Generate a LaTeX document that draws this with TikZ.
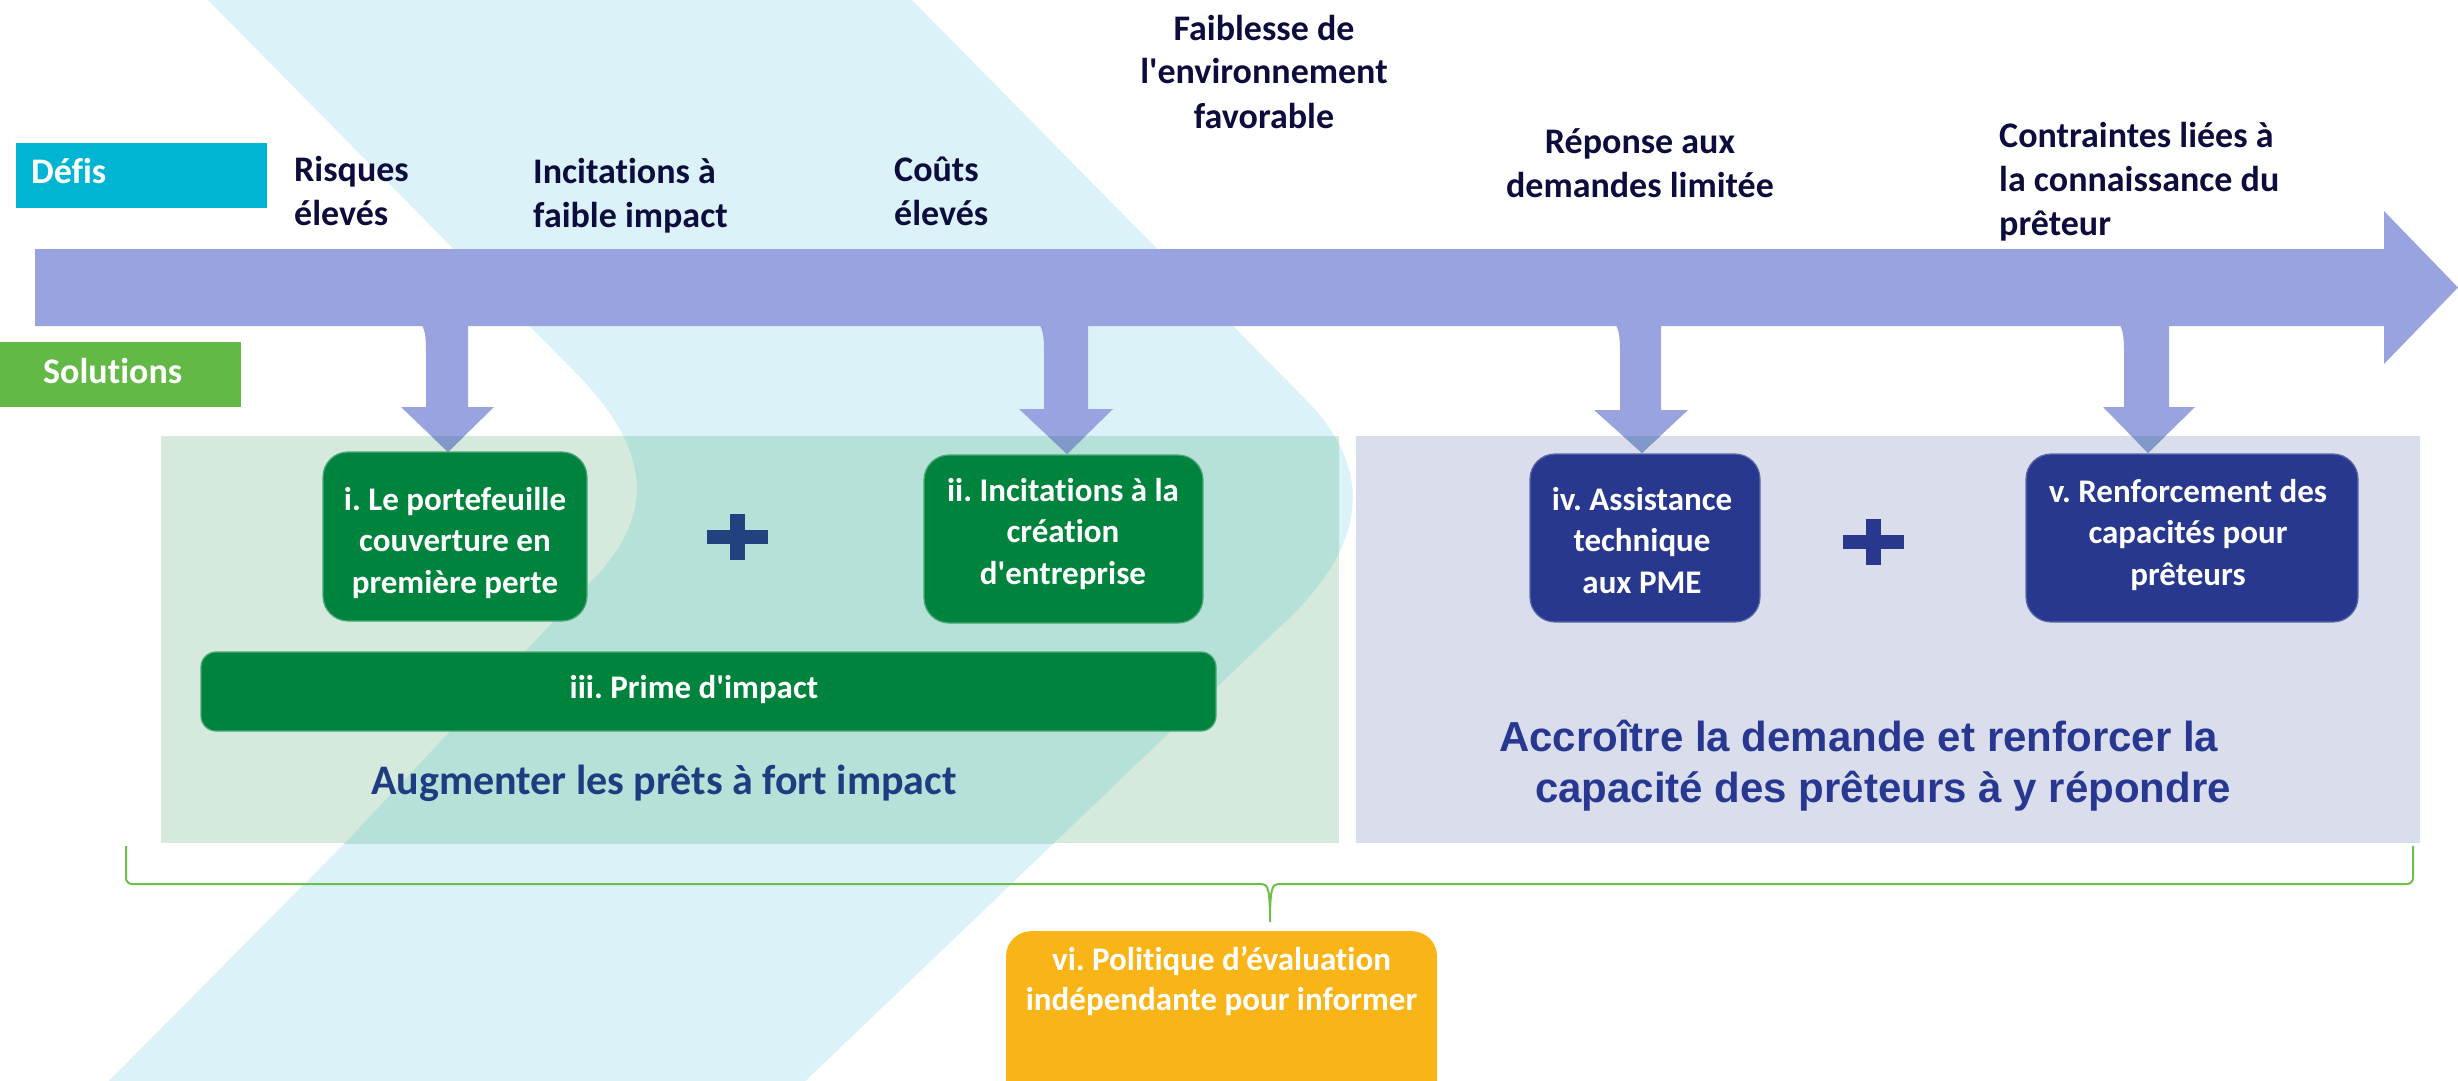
\documentclass[tikz,border=0pt]{standalone}
\usepackage{fontspec}
\setmainfont{Carlito}[Ligatures={TeX,NoCommon}]
\newfontfamily\arialf{Liberation Sans}
\frenchspacing
\definecolor{chev}{HTML}{DAF2F8}
\definecolor{chevg}{HTML}{B5E1D8}
\definecolor{gpanel}{HTML}{D5E9DC}
\definecolor{bpanel}{HTML}{D9DDEC}
\definecolor{arrowc}{HTML}{98A3E0}
\definecolor{arrowd}{HTML}{8199C8}
\definecolor{defisc}{HTML}{00B5D3}
\definecolor{solc}{HTML}{63B946}
\definecolor{dkgreen}{HTML}{00843D}
\definecolor{navy}{HTML}{27388E}
\definecolor{plusg}{HTML}{21417F}
\definecolor{titleg}{HTML}{1F3C80}
\definecolor{titleb}{HTML}{283891}
\definecolor{orangec}{HTML}{F9B418}
\definecolor{bracec}{HTML}{6DBE4B}
\definecolor{chal}{HTML}{0D0D3D}
\newcommand\chfont{\bfseries\fontsize{36}{44}\selectfont}
\newcommand\bxfont{\bfseries\fontsize{33}{41.5}\selectfont}
\tikzset{
  chtext/.style={text=chal, font=\chfont, inner sep=0},
  gbox/.style={fill=dkgreen, draw=dkgreen!70!white, line width=1.2, rounded corners=25, inner sep=0},
  nbox/.style={fill=navy, draw=navy!75!white, line width=1.2, rounded corners=25, inner sep=0},
  bxtext/.style={anchor=base, inner sep=0, align=center, text=white, font=\bxfont},
  tagbox/.style={inner sep=0, anchor=north west},
}
\def\chevpath{(203,-5) -- (575,372) .. controls (650,448) and (655,510) .. (600,572) -- (345,843) -- (100,1090) -- (796,1090) -- (1287,620) .. controls (1368,543) and (1374,469) .. (1306,400) -- (907,-5) -- cycle}
\begin{document}
\begin{tikzpicture}[x=1pt,y=-1pt]
\useasboundingbox (0,0) rectangle (2458,1081);
\clip (0,0) rectangle (2458,1081);
% background chevron
\fill[chev] \chevpath;
% panels
\fill[gpanel] (161,436) rectangle (1339,843);
\begin{scope}
  \clip (161,436) rectangle (1339,843);
  \fill[chevg] \chevpath;
\end{scope}
\fill[bpanel] (1356,436) rectangle (2420,843);
% main arrow
\fill[arrowc] (35,249) -- (2384,249) -- (2384,211) -- (2458,287.5) -- (2384,364) -- (2384,326) -- (35,326) -- cycle;
% down arrows
\foreach \sl/\sr/\hl/\hr/\tx/\hy/\ty in {426/468/401/494/448/407/452, 1044/1088/1019/1113/1067/409/454, 1620/1661/1594/1688/1642/410/453, 2124/2169/2103/2195/2148/407/453}{
  \fill[arrowc] ({\sl-8},320) .. controls (\sl,328) and (\sl,338) .. (\sl,356) -- (\sl,\hy) -- (\hl,\hy) -- (\tx,\ty) -- (\hr,\hy) -- (\sr,\hy) -- (\sr,320) -- cycle;
  \begin{scope}
    \clip (161,436) rectangle (1339,843) (1356,436) rectangle (2420,843);
    \fill[arrowd] (\hl,\hy) -- (\tx,\ty) -- (\hr,\hy) -- cycle;
  \end{scope}
}
% tags
\node[tagbox, fill=defisc, minimum width=251, minimum height=65] (defisbox) at (16,143) {};
\node[anchor=base west, inner sep=0, text=white, font=\chfont] (defis) at (31,183) {Défis};
\node[tagbox, fill=solc, minimum width=241, minimum height=65] (solbox) at (0,342) {};
\node[anchor=base west, inner sep=0, text=white, font=\chfont] (sol) at (43,383) {Solutions};
% challenges (anchor = baseline of last line)
\node[chtext, anchor=base west, align=left] (c1) at (294,225) {Risques\\élevés};
\node[chtext, anchor=base west, align=left] (c2) at (533,227) {Incitations à\\faible impact};
\node[chtext, anchor=base west, align=left] (c3) at (894,225) {Coûts\\élevés};
\node[chtext, anchor=base, align=center] (c4) at (1264,128) {Faiblesse de\\l\textquotesingle environnement\\favorable};
\node[chtext, anchor=base, align=center] (c5) at (1640,197) {Réponse aux\\demandes limitée};
\node[chtext, anchor=base west, align=left] (c6) at (1999,235) {Contraintes liées à\\la connaissance du\\prêteur};
% solution boxes
\node[gbox, minimum width=264, minimum height=169] (b1) at (455,536.5) {};
\node[bxtext] (b1t) at (455,593) {i. Le portefeuille\\couverture en\\première perte};
\node[gbox, minimum width=279, minimum height=168] (b2) at (1063.5,539) {};
\node[bxtext] (b2t) at (1063,584) {ii. Incitations à la\\création\\d\textquotesingle entreprise};
\node[gbox, rounded corners=15, minimum width=1015, minimum height=79] (b3) at (708.5,691.5) {};
\node[bxtext] (b3t) at (694,698) {iii. Prime d\textquotesingle impact};
\node[nbox, minimum width=230, minimum height=168] (b4) at (1645,538) {};
\node[bxtext] (b4t) at (1642,593) {iv. Assistance\\technique\\aux PME};
\node[nbox, minimum width=332, minimum height=168] (b5) at (2192,538) {};
\node[bxtext] (b5t) at (2188,585) {v. Renforcement des\\capacités pour\\prêteurs};
% plus signs
\fill[plusg] (729.5,514) rectangle (744.5,560);
\fill[plusg] (706.5,530) rectangle (767.5,544);
\fill[navy] (1865.5,519) rectangle (1880.5,565);
\fill[navy] (1842.5,535) rectangle (1903.5,549);
% panel titles
\node[anchor=base, inner sep=0, text=titleg, font=\bfseries\fontsize{42}{50}\selectfont] (t1) at (664,794) {Augmenter les prêts à fort impact};
\node[anchor=base west, inner sep=0, align=left, text=titleb, font=\arialf\bfseries\fontsize{42}{51}\selectfont] (t2) at (1499,802) {Accroître la demande et renforcer la\\\hspace*{36pt}capacité des prêteurs à y répondre};
% brace
\draw[bracec, line width=2, rounded corners=6] (126,846) -- (126,884) -- (1262,884);
\draw[bracec, line width=2] (1262,884) .. controls (1268,884) and (1270,890) .. (1270,922) .. controls (1270,890) and (1272,884) .. (1278,884);
\draw[bracec, line width=2, rounded corners=6] (1278,884) -- (2413,884) -- (2413,846);
% orange box
\node[fill=orangec, rounded corners=25, inner sep=0, anchor=north, minimum width=431, minimum height=190] (b6) at (1221.5,931) {};
\node[anchor=base, inner sep=0, align=center, text=white, font=\bfseries\fontsize{33}{40}\selectfont] (b6t) at (1221.5,1010) {vi. Politique d’évaluation\\indépendante pour informer};
\end{tikzpicture}
\end{document}
